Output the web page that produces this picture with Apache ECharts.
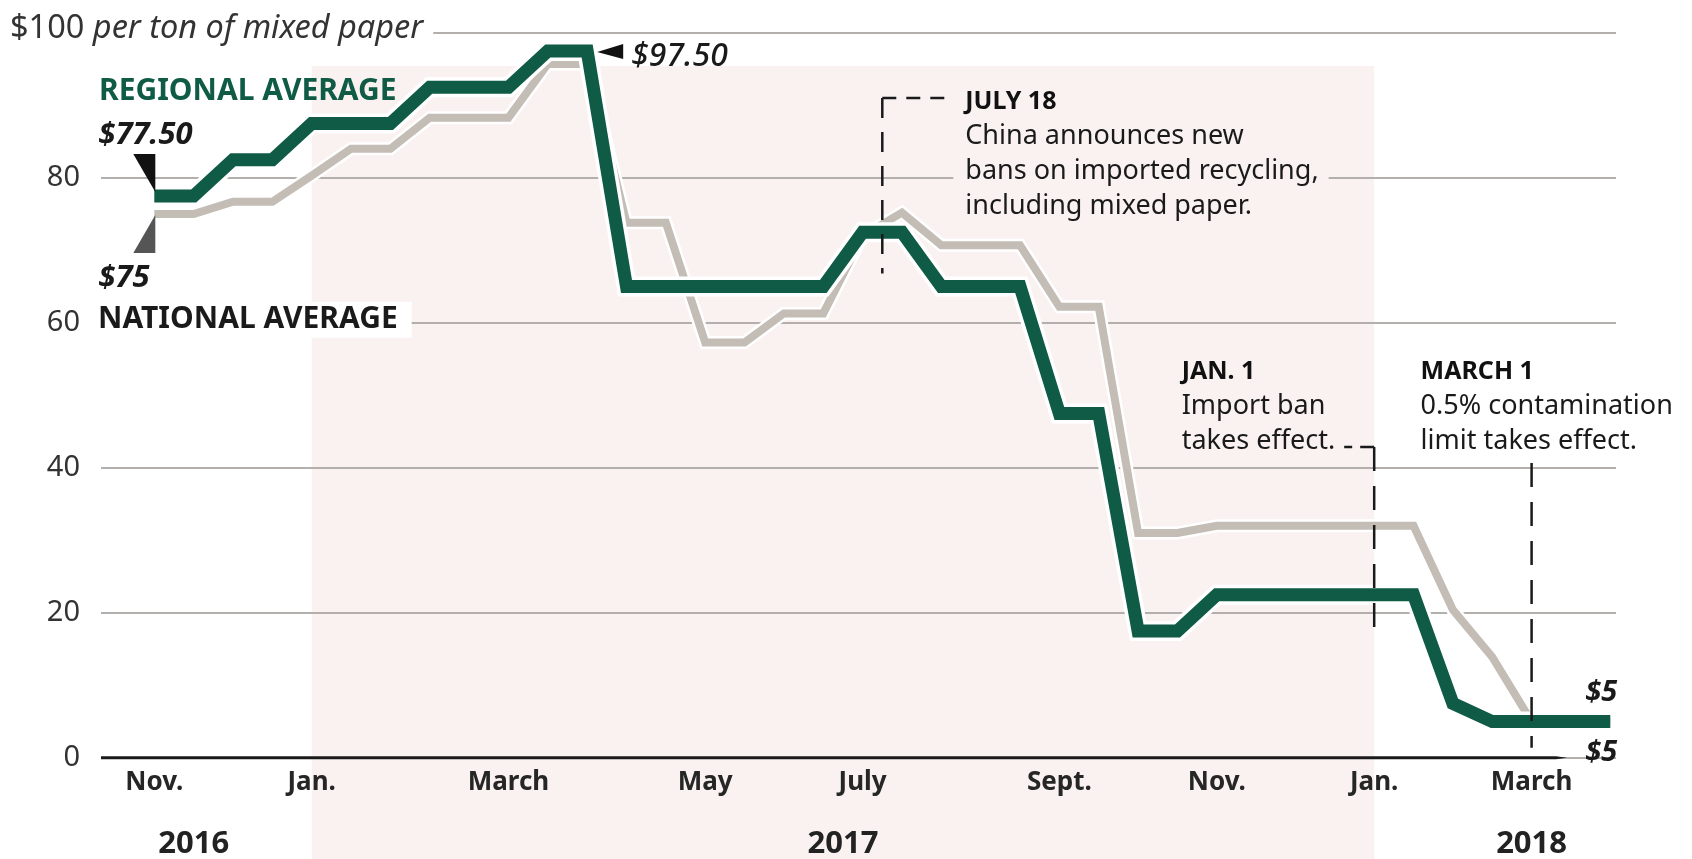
<!DOCTYPE html>
<html>
<head>
<meta charset="utf-8">
<script src="https://cdn.jsdelivr.net/npm/echarts@6/dist/echarts.min.js"></script>
<style>
html,body{margin:0;padding:0;background:#fff;}
#chart{width:1692px;height:859px;}
</style>
</head>
<body>
<div id="chart"></div>
<script>
// ---------- DATA ----------
const categories = [
  'Nov 2016 a','Nov 2016 b','Dec 2016 a','Dec 2016 b',
  'Jan 2017 a','Jan 2017 b','Jan 2017 c','Feb 2017 a','Feb 2017 b',
  'Mar 2017 a','Mar 2017 b','Mar 2017 c','Apr 2017 a','Apr 2017 b',
  'May 2017 a','May 2017 b','Jun 2017 a','Jun 2017 b',
  'Jul 2017 a','Jul 2017 b','Jul 2017 c','Aug 2017 a','Aug 2017 b',
  'Sep 2017 a','Sep 2017 b','Oct 2017 a','Oct 2017 b',
  'Nov 2017 a','Nov 2017 b','Dec 2017 a','Dec 2017 b',
  'Jan 2018 a','Jan 2018 b','Feb 2018 a','Feb 2018 b',
  'Mar 2018 a','Mar 2018 b','Mar 2018 c'
];
const regional = [
  77.5, 77.5, 82.5, 82.5, 87.5, 87.5, 87.5, 92.5, 92.5, 92.5,
  97.5, 97.5, 65, 65, 65, 65, 65, 65, 72.5, 72.5,
  65, 65, 65, 47.5, 47.5, 17.5, 17.5, 22.5, 22.5, 22.5,
  22.5, 22.5, 22.5, 7.5, 5, 5, 5, 5
];
const national = [
  75, 75, 76.7, 76.7, 80.3, 84, 84, 88.3, 88.3, 88.3,
  95.7, 95.7, 73.8, 73.8, 57.3, 57.3, 61.3, 61.3, 72, 75.2,
  70.7, 70.7, 70.7, 62.2, 62.2, 31, 31, 32, 32, 32,
  32, 32, 32, 20.4, 13.9, 5, 5, 5
];
const monthTickIndex  = [0, 4, 9, 14, 18, 23, 27, 31, 35];
const monthTickLabels = ['Nov.', 'Jan.', 'March', 'May', 'July', 'Sept.', 'Nov.', 'Jan.', 'March'];
const yearLabels   = ['2016', '2017', '2018'];
const yearLabelPos = [1, 17.5, 35];
const yTicks = [0, 20, 40, 60, 80, 100];
const events = [
  {pos: 18.5, title: 'JULY 18', lines: ['China announces new', 'bans on imported recycling,', 'including mixed paper.']},
  {pos: 31,   title: 'JAN. 1',  lines: ['Import ban', 'takes effect.']},
  {pos: 35,   title: 'MARCH 1', lines: ['0.5% contamination', 'limit takes effect.']}
];

// ---------- STYLE ----------
const FONT = "'Noto Sans', 'DejaVu Sans', sans-serif";
const GREEN = '#0f5b46';
const GRAY = '#c3bdb6';
const SHADE = '#f9f2f1';
const GRIDC = '#b3afad';
const INK = '#1a1a1a';

const tickMap = new Map(monthTickIndex.map((i, k) => [i, monthTickLabels[k]]));
const yMin = yTicks[0], yMax = yTicks[yTicks.length - 1], yStep = yTicks[1] - yTicks[0];

const chart = echarts.init(document.getElementById('chart'), null, {renderer: 'canvas'});

function lineSeries(data, color, width, z) {
  return {
    type: 'line', xAxisIndex: 0, yAxisIndex: 0, data: data,
    symbol: 'none', silent: true, z: z,
    lineStyle: {color: color, width: width, join: 'miter', cap: 'butt'}
  };
}

chart.setOption({
  animation: false,
  backgroundColor: '#ffffff',
  grid: [
    {left: 154.3, right: 81.7, top: 32.8, bottom: 101.2},
    {left: 101, right: 76, top: 32.8, bottom: 101.2}
  ],
  xAxis: [
    {
      type: 'category', gridIndex: 0, data: categories, boundaryGap: false,
      axisLine: {show: false}, axisTick: {show: false}, splitLine: {show: false},
      axisLabel: {
        interval: (i) => tickMap.has(i),
        formatter: (v, i) => tickMap.get(i) || '',
        fontFamily: FONT, fontSize: 26, fontWeight: 'bold', color: '#262626', margin: 12
      }
    },
    {type: 'value', gridIndex: 1, show: false, min: 0, max: 1}
  ],
  yAxis: [
    {type: 'value', gridIndex: 0, min: yMin, max: yMax, interval: yStep, show: false},
    {
      type: 'value', gridIndex: 1, min: yMin, max: yMax, interval: yStep,
      axisLine: {show: false}, axisTick: {show: false},
      splitLine: {show: true, lineStyle: {color: GRIDC, width: 2}},
      axisLabel: {
        formatter: (v) => (v === yMax ? '' : String(v)),
        fontFamily: FONT, fontSize: 29, color: '#333', margin: 21
      }
    }
  ],
  series: [
    lineSeries(national, '#ffffff', 13, 2),
    lineSeries(national, GRAY, 8, 3),
    lineSeries(regional, '#ffffff', 20, 4),
    lineSeries(regional, GREEN, 13, 5)
  ]
});

// ---------- ANNOTATIONS (positions from the library's scales) ----------
const P = (i, v) => chart.convertToPixel({gridIndex: 0}, [i, v]);
const X = (pos) => {
  const f = Math.floor(pos), c = Math.ceil(pos);
  const a = P(f, 0)[0], b = P(c, 0)[0];
  return a + (b - a) * (pos - f);
};
const Y = (v) => P(0, v)[1];

const H = chart.getHeight();
const g = [];

// shaded year 2017
g.push({
  type: 'rect', z: -10, silent: true,
  shape: {x: X(monthTickIndex[1]), y: 66, width: X(monthTickIndex[7]) - X(monthTickIndex[1]), height: H - 66},
  style: {fill: SHADE}
});

// zero axis line
g.push({
  type: 'polygon', z: 50, silent: true,
  shape: {points: [[101, Y(0) - 1.5], [1556, Y(0) - 1.5], [1567, Y(0)], [1556, Y(0) + 1.5], [101, Y(0) + 1.5]]},
  style: {fill: INK}
});

function txt(x, y, text, opts) {
  return {
    type: 'text', z: 60, silent: true, x: x, y: y,
    style: Object.assign({text: text, fontFamily: FONT, fill: INK, align: 'left', verticalAlign: 'middle'}, opts || {})
  };
}
function dashed(points, dash) {
  return {
    type: 'polyline', z: 55, silent: true,
    shape: {points: points},
    style: {stroke: INK, lineWidth: 2.5, lineDash: dash || [24, 15], fill: null}
  };
}

// axis title on the 100 line
g.push(txt(10, Y(yMax) - 4, '$' + yMax + ' {i|per ton of mixed paper}', {
  fontSize: 32.5, fill: '#333', backgroundColor: '#ffffff', padding: [2, 10, 2, 0],
  rich: {i: {fontStyle: 'italic', fontSize: 32.5, fontFamily: FONT, fill: '#333'}}
}));

// series names
g.push(txt(99, 91, 'REGIONAL AVERAGE', {fontSize: 30, fontWeight: 'bold', fill: GREEN}));
g.push(txt(92, Y(60) - 3, 'NATIONAL AVERAGE', {
  fontSize: 30, fontWeight: 'bold', fill: INK, backgroundColor: '#ffffff', padding: [3, 14, 3, 6]
}));

// start values
const r0 = P(0, regional[0]);
const n0 = P(0, national[0]);
g.push({type: 'polygon', z: 58, silent: true,
  shape: {points: [[r0[0] - 21, r0[1] - 42], [r0[0] + 1, r0[1] - 42], [r0[0] + 1, r0[1] - 4]]},
  style: {fill: '#111'}});
g.push(txt(r0[0] - 56, r0[1] - 61, '$' + regional[0].toFixed(2), {fontSize: 31, fontWeight: 'bold', fontStyle: 'italic'}));
g.push({type: 'polygon', z: 58, silent: true,
  shape: {points: [[n0[0] - 21, n0[1] + 39], [n0[0] + 1, n0[1] + 39], [n0[0] + 1, n0[1] + 1]]},
  style: {fill: '#555'}});
g.push(txt(n0[0] - 56, n0[1] + 64, '$' + national[0], {fontSize: 31, fontWeight: 'bold', fontStyle: 'italic'}));

// peak value
const peakIdx = regional.lastIndexOf(Math.max.apply(null, regional));
const pk = P(peakIdx, regional[peakIdx]);
g.push({type: 'polygon', z: 58, silent: true,
  shape: {points: [[pk[0] + 10, pk[1] + 1], [pk[0] + 36, pk[1] - 7], [pk[0] + 36, pk[1] + 8]]},
  style: {fill: '#111'}});
g.push(txt(pk[0] + 44, pk[1] + 6, '$' + regional[peakIdx].toFixed(2), {fontSize: 32, fontStyle: 'italic', fontWeight: 500}));

// end values
const last = regional.length - 1;
const re = P(last, regional[last]);
const ne = P(last, national[last]);
g.push(txt(re[0] - 25, re[1] - 29, '$' + regional[last], {fontSize: 29, fontWeight: 'bold', fontStyle: 'italic'}));
g.push(txt(ne[0] - 25, ne[1] + 31, '$' + national[last], {fontSize: 29, fontWeight: 'bold', fontStyle: 'italic'}));

// year labels
yearLabels.forEach((t, k) => {
  g.push(txt(X(yearLabelPos[k]), 844, t, {fontSize: 31, fontWeight: 'bold', fill: '#222', align: 'center'}));
});

// events
function eventText(x, yTop, ev, bg) {
  const o = {
    fontSize: 27, lineHeight: 35, fill: INK, verticalAlign: 'top',
    rich: {t: {fontFamily: FONT, fontWeight: 'bold', fontSize: 25, lineHeight: 35, fill: '#111'}}
  };
  if (bg) { o.backgroundColor = bg; o.padding = [0, 10, 0, 12]; x -= 12; }
  return txt(x, yTop, '{t|' + ev.title + '}\n' + ev.lines.join('\n'), o);
}
// July 18
{
  const ev = events[0], x = X(ev.pos), yc = Y(91);
  g.push(dashed([[x, yc], [x + 66, yc]], [14, 10]));
  g.push(dashed([[x, yc], [x, Y(66.8)]], [20, 14]));
  g.push(eventText(x + 83, 84, ev, SHADE));
}
// Jan 1
{
  const ev = events[1], x = X(ev.pos);
  g.push(dashed([[x, 447], [x - 30, 447]], [14, 8]));
  g.push(dashed([[x, 447], [x, Y(16.2)]], [24, 15]));
  g.push(eventText(x - 192.5, 354, ev, null));
}
// March 1
{
  const ev = events[2], x = X(ev.pos);
  g.push(dashed([[x, 463], [x, Y(1.4)]], [24, 15]));
  g.push(eventText(x - 111, 354, ev, null));
}

chart.setOption({graphic: g});
</script>
</body>
</html>
